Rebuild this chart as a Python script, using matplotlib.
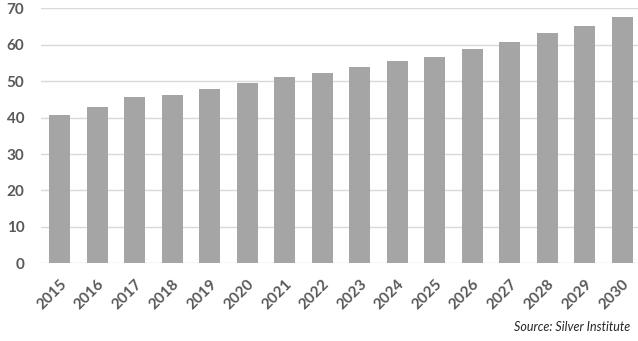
import matplotlib
matplotlib.use("Agg")
import matplotlib.pyplot as plt

years = [str(y) for y in range(2015, 2031)]
values = [40.7, 43.0, 45.6, 46.3, 47.8, 49.6, 51.1, 52.2, 54.0, 55.4, 56.7, 58.7, 60.8, 63.1, 65.2, 67.5]
yticks = [0, 10, 20, 30, 40, 50, 60, 70]

W, H = 638, 341
fig = plt.figure(figsize=(W / 100, H / 100), dpi=100)
ax = fig.add_axes([41 / W, (H - 263.3) / H, 600 / W, 255 / H])

x = list(range(len(years)))
ax.bar(x, values, width=0.56, color="#a5a5a5", zorder=3)
ax.set_xlim(-0.5, len(years) - 0.5)
ax.set_ylim(0, 70)
ax.set_yticks(yticks)
ax.yaxis.grid(True, color="#d9d9d9", linewidth=1, zorder=0)
for s in ax.spines.values():
    s.set_visible(False)
ax.tick_params(length=0)
ax.set_xticks(x)
ax.set_xticklabels(years, rotation=45, ha="right", rotation_mode="anchor",
                   fontsize=11, fontweight="bold", color="#595959", family="Lato")
for lab in ax.get_yticklabels():
    lab.set_fontsize(11)
    lab.set_fontweight("bold")
    lab.set_color("#595959")
    lab.set_family("Lato")
ax.tick_params(axis="y", pad=12)
ax.tick_params(axis="x", pad=10)

fig.text(630 / W, 1 - 327 / H, "Source: Silver Institute", ha="right", va="center",
         fontsize=9, style="italic", color="#262626", family="Lato")

fig.savefig("out.png", dpi=100)
